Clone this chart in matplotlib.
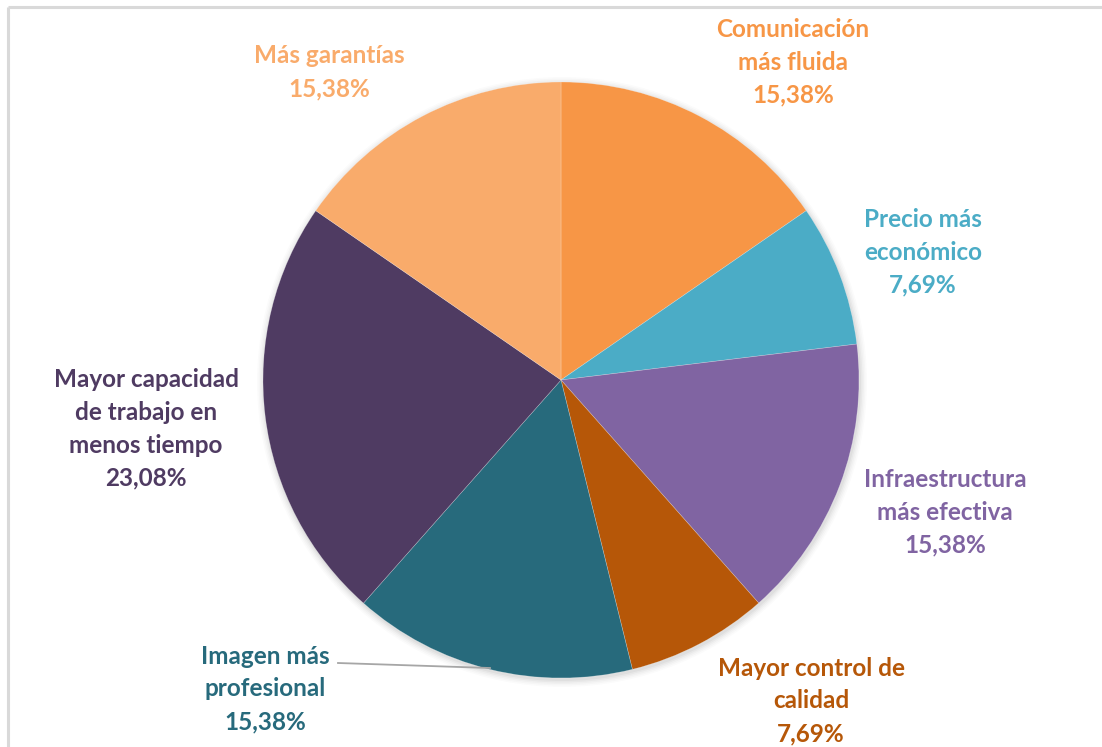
import matplotlib
matplotlib.use("Agg")
import matplotlib.pyplot as plt
from matplotlib.patches import Circle

# Survey results: perceived benefits
categories = [
    "Comunicación\nmás fluida",
    "Precio más\neconómico",
    "Infraestructura\nmás efectiva",
    "Mayor control de\ncalidad",
    "Imagen más\nprofesional",
    "Mayor capacidad\nde trabajo en\nmenos tiempo",
    "Más garantías",
]
values = [15.38, 7.69, 15.38, 7.69, 15.38, 23.08, 15.38]
colors = ["#F79646", "#4BACC6", "#8064A2", "#B65708", "#276A7C", "#4F3B62", "#F9AB6B"]

W, H = 1102, 747
fig = plt.figure(figsize=(W / 100, H / 100), dpi=100)
ax = fig.add_axes([0, 0, 1, 1])
ax.set_xlim(0, W)
ax.set_ylim(0, H)
ax.set_aspect("equal")
ax.axis("off")


def py(y):
    """Convert a top-down pixel row to axis y."""
    return H - y


# Frame (left and top edges visible)
ax.plot([8, 8], [py(7), py(H + 5)], color="#D9D9D9", lw=2.2, solid_capstyle="butt")
ax.plot([8, W + 5], [py(7), py(7)], color="#D9D9D9", lw=2.2, solid_capstyle="butt")

cx, cy, r = 561, py(380), 298

# Soft shadow under the pie
for i, a in enumerate([0.035, 0.03, 0.025, 0.02, 0.015]):
    ax.add_patch(Circle((cx + 1, cy - 2), r + 1 + i * 1.5, color="black", alpha=a, lw=0, zorder=1))

ax.pie(values, colors=colors, startangle=90, counterclock=False,
       center=(cx, cy), radius=r, frame=True,
       wedgeprops=dict(linewidth=0.4, edgecolor=(1, 1, 1, 0.35), zorder=2))
ax.set_xlim(0, W)
ax.set_ylim(0, H)
ax.axis("off")

font = dict(family=["Lato", "DejaVu Sans"], fontweight="bold", fontsize=17.5,
            ha="center", va="center", linespacing=1.52)

label_pos = [(793, 62), (923, 252), (945, 512), (811, 701), (265, 689), (146, 429), (329, 72)]
for cat, val, col, (x, y) in zip(categories, values, colors, label_pos):
    txt = f"{cat}\n{val:.2f}%".replace(".", ",")
    ax.text(x, py(y), txt, color=col, zorder=5, **font)

# Leader line for the slice whose label sits outside
ax.plot([338, 490], [py(663), py(668)], color="#A6A6A6", lw=1.3, zorder=4)

fig.savefig("out.png", dpi=100, facecolor="white")
